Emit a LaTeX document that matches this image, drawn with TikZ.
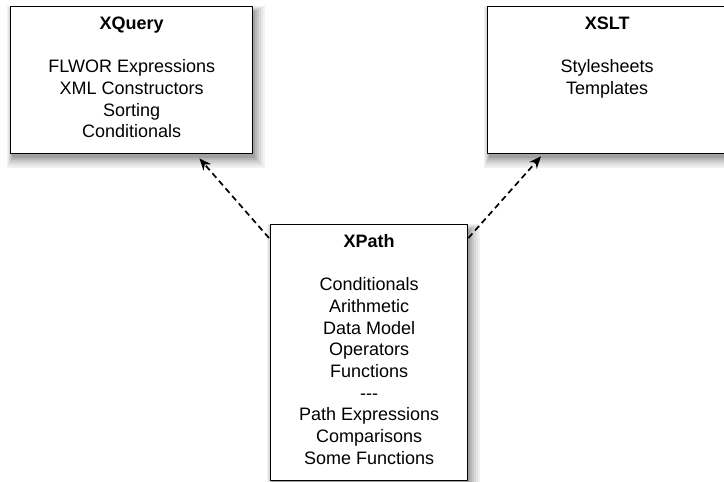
\documentclass[tikz,border=0pt]{standalone}
\usepackage{fontspec}
\setmainfont{Liberation Sans}
\usetikzlibrary{calc,arrows.meta}

\definecolor{shadowgray}{gray}{0.55}
\tikzset{
  langbox/.style={draw=black, line width=1.4pt, fill=white, anchor=north west,
    inner sep=0pt},
  boxtext/.style={anchor=north, align=center, inner sep=0pt,
    font=\fontsize{18}{21.7}\selectfont},
  uses/.style={line width=1.7pt, dash pattern=on 6pt off 4pt, -{Stealth[length=12pt, width=10pt]}}
}

\begin{document}
\begin{tikzpicture}[x=1pt, y=-1pt, line join=round]
  \useasboundingbox (0,0) rectangle (724,482);

  % soft shadows first, lightest ring outermost
  \foreach \bx/\by/\bw/\bh in {10/6/242/147, 487/6/239/147, 270/224/197/256}{
    \foreach \r/\g in {11/12,9/22,7/34,5/48,3/64,1/82}{
      \fill[shadowgray!\g!white] (\bx+2-0.5*\r,\by+5-0.5*\r) rectangle (\bx+\bw+2+\r,\by+\bh+4+\r);
    }
  }

  % the three language boxes
  \node[langbox, minimum width=242pt, minimum height=147pt] (xquery) at (10,6) {};
  \node[langbox, minimum width=239pt, minimum height=147pt] (xslt) at (487,6) {};
  \node[langbox, minimum width=197pt, minimum height=256pt] (xpath) at (270,224) {};

  \node[boxtext] (xquerytext) at ($(xquery.north)+(0,10.5)$)
    {\textbf{XQuery}\\[21.7pt]FLWOR Expressions\\XML Constructors\\Sorting\\Conditionals};
  \node[boxtext] (xslttext) at ($(xslt.north)+(0,10.5)$)
    {\textbf{XSLT}\\[21.7pt]Stylesheets\\Templates};
  \node[boxtext] (xpathtext) at ($(xpath.north)+(0,10)$)
    {\textbf{XPath}\\[21.7pt]Conditionals\\Arithmetic\\Data Model\\Operators\\Functions\\{-}{-}{-}\\Path Expressions\\Comparisons\\Some Functions};

  % XPath is the common base of both
  \draw[uses] ($(xpath.north west)+(-1,14)$) -- ($(xquery.south east)+(-54,4)$);
  \draw[uses] ($(xpath.north east)+(0,14)$) -- ($(xslt.south west)+(54,2)$);
\end{tikzpicture}
\end{document}
